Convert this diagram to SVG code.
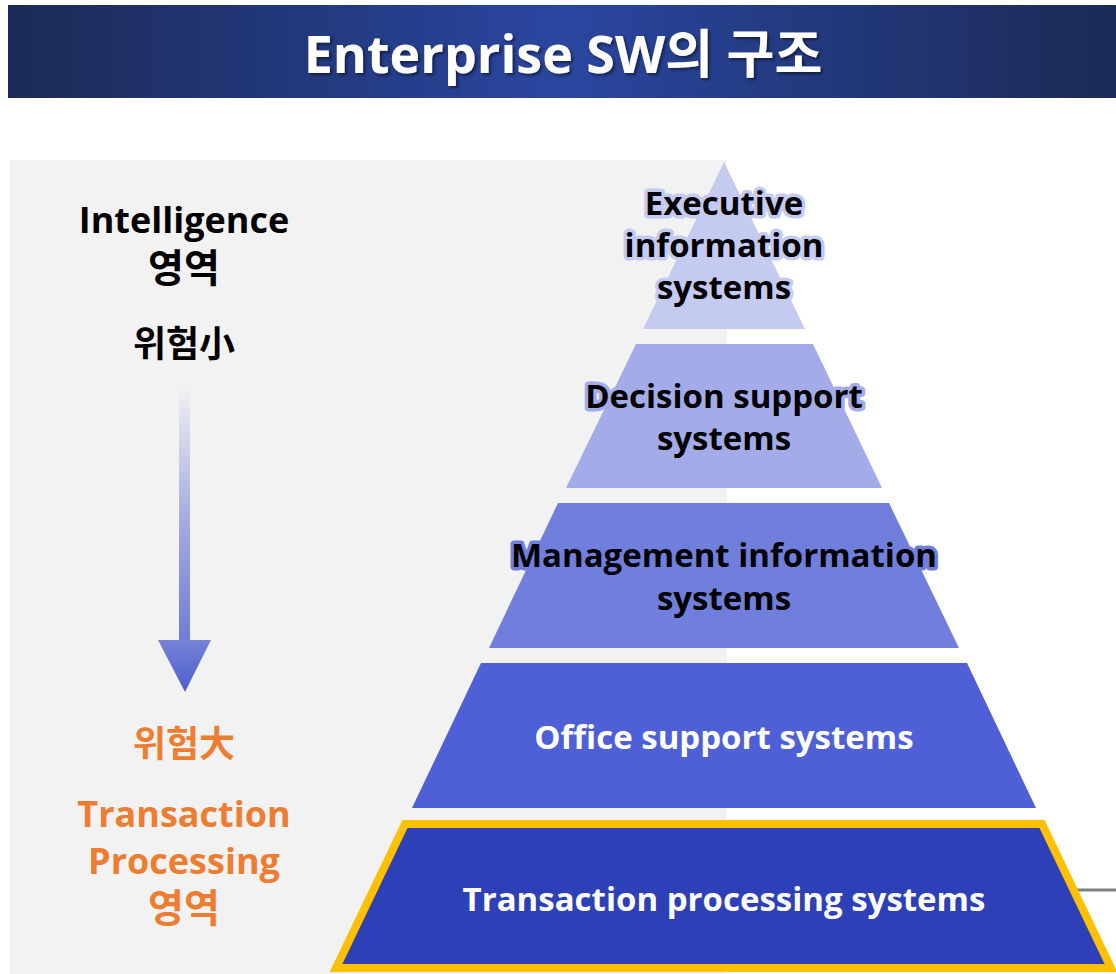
<svg xmlns="http://www.w3.org/2000/svg" width="1116" height="974" viewBox="0 0 1116 974">
  <defs>
    <linearGradient id="banner" x1="0" y1="0" x2="1" y2="0">
      <stop offset="0" stop-color="#1b2a55"/>
      <stop offset="0.5" stop-color="#2a46a0"/>
      <stop offset="1" stop-color="#1b2a55"/>
    </linearGradient>
    <linearGradient id="shaft" x1="0" y1="0" x2="0" y2="1">
      <stop offset="0" stop-color="#f2f2f2"/>
      <stop offset="0.5" stop-color="#a8aee0"/>
      <stop offset="1" stop-color="#6f7dd6"/>
    </linearGradient>
    <linearGradient id="head" x1="0" y1="0" x2="0" y2="1">
      <stop offset="0" stop-color="#7583d8"/>
      <stop offset="1" stop-color="#4d5dcc"/>
    </linearGradient>
    <filter id="shadow" x="-5%" y="-20%" width="110%" height="140%">
      <feDropShadow dx="2" dy="2" stdDeviation="1.5" flood-color="#000" flood-opacity="0.5"/>
    </filter>
  </defs>
  <style>
    text { font-family: "Open Sans", "Noto Sans CJK KR", sans-serif; font-weight: 700; text-anchor: middle; }
    .title { fill: #ffffff; font-size: 52px; }
    .side { font-size: 36px; fill: #000000; }
    .ko { font-size: 39px; }
    .risk { font-size: 36px; }
    .orange { fill: #ed7d31; }
    .lbl { font-size: 33px; fill: #000000; paint-order: stroke; stroke-width: 7px; stroke-linejoin: round; }
    .wlbl { font-size: 33px; fill: #ffffff; }
  </style>
  <rect x="0" y="0" width="1116" height="974" fill="#ffffff"/>
  <g id="banner-group">
    <rect x="8" y="5" width="1108" height="93" fill="url(#banner)"/>
    <text class="title" x="563" y="73" filter="url(#shadow)">Enterprise SW의 구조</text>
  </g>
  <rect id="left-panel" x="10" y="160" width="717" height="814" fill="#f2f2f2"/>
  <line x1="1060" y1="890" x2="1116" y2="890" stroke="#808080" stroke-width="3"/>
  <g id="left-labels">
    <text class="side" x="184" y="233">Intelligence</text>
    <text class="side ko" x="184" y="282">영역</text>
    <text class="side risk" x="184" y="357">위험小</text>
    <text class="side risk orange" x="184" y="757">위험大</text>
    <text class="side orange" x="184" y="827">Transaction</text>
    <text class="side orange" x="184" y="874">Processing</text>
    <text class="side ko orange" x="184" y="922">영역</text>
  </g>
  <g id="connectors">
    <rect x="179" y="386" width="11" height="256" fill="url(#shaft)"/>
    <polygon points="158,640 211,640 185,692" fill="url(#head)"/>
  </g>
  <g id="eis">
    <polygon points="724,162 805,329 643,329" fill="#c5cbf0"/>
    <text class="lbl" x="724" y="215" stroke="#c5cbf0">Executive</text>
    <text class="lbl" x="724" y="257" stroke="#c5cbf0">information</text>
    <text class="lbl" x="724" y="299" stroke="#c5cbf0">systems</text>
  </g>
  <g id="dss">
    <polygon points="636,344 813,344 882,488 566,488" fill="#a3ace8"/>
    <text class="lbl" x="724" y="408" stroke="#a3ace8">Decision support</text>
    <text class="lbl" x="724" y="450" stroke="#a3ace8">systems</text>
  </g>
  <g id="mis">
    <polygon points="558,503 889,503 959,648 489,648" fill="#717fdc"/>
    <text class="lbl" x="724" y="567" stroke="#717fdc">Management information</text>
    <text class="lbl" x="724" y="610" stroke="#717fdc">systems</text>
  </g>
  <g id="oss">
    <polygon points="481,663 967,663 1036,808 412,808" fill="#4f5fd5"/>
    <text class="wlbl" x="724" y="749">Office support systems</text>
  </g>
  <g id="tps">
    <polygon points="405,824 1042,824 1111,968 336,968" fill="#2e40b8" stroke="#ffc000" stroke-width="8" stroke-linejoin="miter"/>
    <text class="wlbl" x="724" y="911">Transaction processing systems</text>
  </g>
</svg>
